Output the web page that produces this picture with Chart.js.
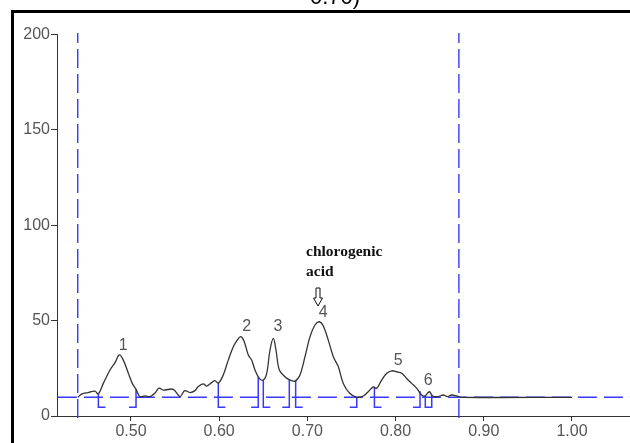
<!DOCTYPE html>
<html>
<head>
<meta charset="utf-8">
<script src="https://cdn.jsdelivr.net/npm/chart.js@4"></script>
<style>
  html, body { margin: 0; padding: 0; background: #fff; }
  canvas { display: block; }
</style>
</head>
<body>
<canvas id="densitograma" width="630" height="443"></canvas>
<script>
// Rf positions and signal
var rf = [0.4396, 0.444, 0.4516, 0.459, 0.463, 0.4686, 0.4762, 0.4819, 0.4867, 0.4913,
          0.497, 0.5015, 0.5057, 0.510, 0.516, 0.5215, 0.527, 0.5317, 0.5366, 0.548,
          0.5556, 0.561, 0.567, 0.5726, 0.576, 0.582, 0.5858, 0.5915, 0.5952, 0.599,
          0.6046, 0.6103, 0.616, 0.6205, 0.6244, 0.628, 0.633, 0.6368, 0.6406, 0.6455,
          0.650, 0.6539, 0.6576, 0.6614, 0.6644, 0.6682, 0.6746, 0.680, 0.686, 0.6916,
          0.6973, 0.703, 0.7086, 0.7135, 0.718, 0.7237, 0.7294, 0.735, 0.7407, 0.748,
          0.756, 0.7634, 0.769, 0.7747, 0.7786, 0.7843, 0.790, 0.7956, 0.8013, 0.807,
          0.8126, 0.8183, 0.824, 0.8296, 0.8333, 0.8383, 0.842, 0.8484, 0.854, 0.8587,
          0.8636, 0.8693, 0.875, 1.000];
var senal = [9.8, 11.5, 12.3, 13.0, 11.6, 17.1, 24.1, 28.0, 32.0, 29.3,
             22.4, 17.1, 14.0, 10.2, 10.5, 10.2, 11.9, 14.6, 13.6, 14.0,
             10.2, 13.3, 12.3, 13.3, 15.3, 16.8, 15.7, 17.5, 18.5, 17.2,
             21.5, 29.3, 36.3, 39.8, 41.6, 39.5, 32.0, 29.3, 24.1, 19.7,
             18.9, 22.4, 34.6, 40.7, 34.6, 24.1, 20.6, 18.9, 18.3, 21.5,
             31.1, 41.6, 47.7, 49.4, 47.2, 39.8, 31.1, 25.9, 17.1, 11.9,
             9.8, 10.5, 12.7, 15.3, 14.5, 18.9, 22.4, 23.7, 23.2, 22.4,
             19.7, 17.1, 14.5, 11.0, 10.5, 12.7, 10.5, 10.2, 11.0, 10.2,
             11.0, 10.5, 9.8, 9.8];

// integration limits of each peak and the signal there
var picoInicio = [0.463, 0.599, 0.650, 0.6867, 0.776, 0.8337];
var picoFin = [0.5057, 0.6443, 0.6795, 0.756, 0.8277, 0.841];
var alturaInicio = [11.6, 17.2, 18.9, 18.3, 15.3, 10.5];
var alturaFin = [14.0, 20.5, 19.0, 9.8, 13.0, 11.0];
var pieMarca = 4.6;

// peak numbers
var etiquetas = ["1", "2", "3", "4", "5", "6"];
var etiquetaX = [0.4913, 0.6312, 0.6667, 0.718, 0.803, 0.8371];
var etiquetaY = [36.7, 47.0, 46.7, 54.3, 28.8, 18.6];

// track limits and baseline
var limiteInicio = 0.4396;
var limiteFin = 0.8718;
var lineaBase = 9.8;

var xTicks = [0.50, 0.60, 0.70, 0.80, 0.90, 1.00];
var yTicks = [0, 50, 100, 150, 200];
var xMin = 0.4161, xMax = 1.0658;

var azul = "#3838ff";

var curva = rf.map(function (v, i) { return { x: v, y: senal[i] }; });

var marcas = [];
picoInicio.forEach(function (a, i) {
    var b = picoFin[i];
    marcas.push({ x: a, y: alturaInicio[i] }, { x: a, y: pieMarca }, { x: a + 0.008, y: pieMarca }, { x: a + 0.008, y: null });
    marcas.push({ x: b - 0.008, y: pieMarca }, { x: b, y: pieMarca }, { x: b, y: alturaFin[i] }, { x: b, y: null });
});

var textos = {
    id: "textos",
    beforeDraw: function (chart) {
        var c = chart.ctx;
        c.save();
        c.fillStyle = "#000";
        c.fillRect(11, 10, 3, 433);
        c.fillRect(11, 10, 619, 3);
        c.font = "22px 'Liberation Sans', Arial";
        c.textAlign = "left";
        c.textBaseline = "alphabetic";
        c.fillText("0.70)", 310, 4);
        c.restore();
    },
    afterDatasetsDraw: function (chart) {
        var c = chart.ctx;
        var sx = chart.scales.x, sy = chart.scales.y;
        c.save();
        c.fillStyle = "#555";
        c.font = "16px 'Liberation Sans', Arial";
        c.textAlign = "center";
        c.textBaseline = "middle";
        etiquetas.forEach(function (t, i) {
            c.fillText(t, sx.getPixelForValue(etiquetaX[i]), sy.getPixelForValue(etiquetaY[i]));
        });
        // chlorogenic acid note
        c.fillStyle = "#111";
        c.font = "bold 15.5px 'Liberation Serif', 'Times New Roman'";
        c.textAlign = "left";
        c.textBaseline = "alphabetic";
        c.fillText("chlorogenic", 306, 256);
        c.fillText("acid", 306, 276);
        var ax = 318, ay = 288;
        c.strokeStyle = "#111";
        c.lineWidth = 1;
        c.beginPath();
        c.moveTo(ax - 2, ay);
        c.lineTo(ax + 2, ay);
        c.lineTo(ax + 2, ay + 10);
        c.lineTo(ax + 4.5, ay + 10);
        c.lineTo(ax, ay + 18);
        c.lineTo(ax - 4.5, ay + 10);
        c.lineTo(ax - 2, ay + 10);
        c.closePath();
        c.stroke();
        c.restore();
    }
};

var ctx = document.getElementById("densitograma").getContext("2d");
var grafico = new Chart(ctx, {
    type: "line",
    data: {
        datasets: [{
            label: "senal",
            data: curva,
            borderColor: "#333",
            borderWidth: 1.3,
            pointRadius: 0,
            tension: 0.35,
            fill: false
        }, {
            label: "base",
            data: [{ x: xMin + 0.001, y: lineaBase }, { x: xMax, y: lineaBase }],
            borderColor: azul,
            borderWidth: 1.4,
            borderDash: [19, 7],
            pointRadius: 0
        }, {
            label: "inicio",
            data: [{ x: limiteInicio, y: -1 }, { x: limiteInicio, y: 200.8 }],
            borderColor: azul,
            borderWidth: 1.4,
            borderDash: [19, 6],
            pointRadius: 0,
            clip: false
        }, {
            label: "fin",
            data: [{ x: limiteFin, y: -1 }, { x: limiteFin, y: 200.8 }],
            borderColor: azul,
            borderWidth: 1.4,
            borderDash: [19, 6],
            pointRadius: 0,
            clip: false
        }, {
            label: "marcas",
            data: marcas,
            borderColor: azul,
            borderWidth: 1.5,
            pointRadius: 0,
            spanGaps: false
        }]
    },
    options: {
        responsive: false,
        animation: false,
        devicePixelRatio: 1,
        layout: { padding: { top: 34.5, right: 0, left: 0, bottom: 0 } },
        plugins: {
            legend: { display: false },
            tooltip: { enabled: false }
        },
        scales: {
            x: {
                type: "linear",
                min: xMin,
                max: xMax,
                afterBuildTicks: function (scale) {
                    scale.ticks = xTicks.map(function (v) { return { value: v }; });
                },
                afterFit: function (scale) { scale.height = 27; },
                ticks: {
                    color: "#555",
                    font: { family: "'Liberation Sans', Arial", size: 16 },
                    padding: 1,
                    maxRotation: 0,
                    autoSkip: false,
                    callback: function (v) { return Number(v).toFixed(2); }
                },
                grid: { drawOnChartArea: false, tickLength: 5, color: "#333" },
                border: { color: "#333", width: 1 }
            },
            y: {
                min: 0,
                max: 200,
                afterBuildTicks: function (scale) {
                    scale.ticks = yTicks.map(function (v) { return { value: v }; });
                },
                afterFit: function (scale) { scale.width = 57; },
                ticks: {
                    color: "#555",
                    font: { family: "'Liberation Sans', Arial", size: 16 },
                    padding: 1
                },
                grid: { drawOnChartArea: false, tickLength: 6, color: "#333" },
                border: { color: "#333", width: 1 }
            }
        }
    },
    plugins: [textos]
});
</script>
</body>
</html>
